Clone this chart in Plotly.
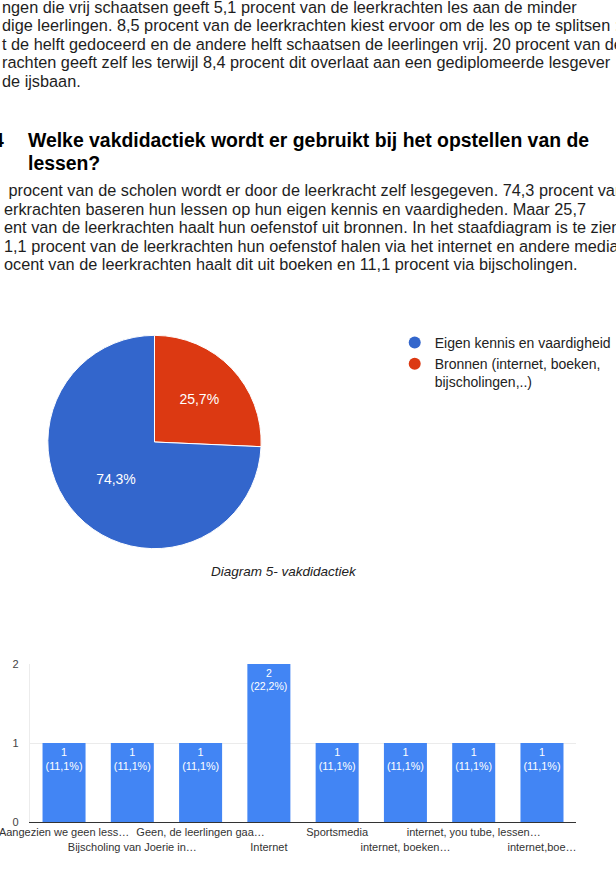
import plotly.graph_objects as go

W, H = 616, 870

# ---------- data ----------
para1 = [
    "ngen die vrij schaatsen geeft 5,1 procent van de leerkrachten les aan de minder",
    "dige leerlingen. 8,5 procent van de leerkrachten kiest ervoor om de les op te splitsen :",
    "t de helft gedoceerd en de andere helft schaatsen de leerlingen vrij. 20 procent van de",
    "rachten geeft zelf les terwijl 8,4 procent dit overlaat aan een gediplomeerde lesgever",
    "de ijsbaan.",
]
heading_num = "4"
heading = ["Welke vakdidactiek wordt er gebruikt bij het opstellen van de", "lessen?"]
para2 = [
    " procent van de scholen wordt er door de leerkracht zelf lesgegeven. 74,3 procent van",
    "erkrachten baseren hun lessen op hun eigen kennis en vaardigheden. Maar 25,7",
    "ent van de leerkrachten haalt hun oefenstof uit bronnen. In het staafdiagram is te zien",
    "1,1 procent van de leerkrachten hun oefenstof halen via het internet en andere media",
    "ocent van de leerkrachten haalt dit uit boeken en 11,1 procent via bijscholingen.",
]
caption = "Diagram 5- vakdidactiek"

pie_labels = ["Eigen kennis en vaardigheid", "Bronnen (internet, boeken,<br>bijscholingen,..)"]
pie_values = [74.3, 25.7]
pie_colors = ["#3366CC", "#DC3912"]

bar_labels = [
    "Aangezien we geen less…",
    "Bijscholing van Joerie in…",
    "Geen, de leerlingen gaa…",
    "Internet",
    "Sportsmedia",
    "internet, boeken…",
    "internet, you tube, lessen…",
    "internet,boe…",
]
bar_counts = [1, 1, 1, 2, 1, 1, 1, 1]
bar_total = 9
bar_color = "#4285F4"

# ---------- helpers ----------
def px(x):
    return x / W

def py(y):
    return 1 - y / H

FONT = "Liberation Sans, Arial, sans-serif"
TXT = "#1e1e1e"

fig = go.Figure()

# pie (drawn with the second category first so it starts at 12 o'clock going clockwise)
fig.add_trace(go.Pie(
    labels=pie_labels[::-1], values=pie_values[::-1], sort=False, direction="clockwise",
    marker=dict(colors=pie_colors[::-1], line=dict(color="white", width=1)),
    texttemplate="%{percent:.1%}", textposition="inside", insidetextorientation="horizontal",
    textfont=dict(color="white", size=14, family=FONT),
    domain=dict(x=[px(48), px(262)], y=[py(549), py(335)]),
    showlegend=False, hoverinfo="skip",
))

# legend proxies
for lab, col in zip(pie_labels, pie_colors):
    fig.add_trace(go.Scatter(
        x=[None], y=[None], mode="markers", name=lab,
        marker=dict(symbol="circle", size=13, color=col),
        xaxis="x2", yaxis="y2", showlegend=True,
    ))

# bar
share = [c / bar_total for c in bar_counts]
fig.add_trace(go.Bar(
    x=bar_labels, y=bar_counts, customdata=share,
    marker=dict(color=bar_color, line=dict(width=0)),
    texttemplate="%{y}<br>(%{customdata:.1%})", textposition="inside",
    insidetextanchor="end", textangle=0,
    textfont=dict(color="white", size=11, family=FONT),
    showlegend=False, hoverinfo="skip",
))

ticktext = [l if i % 2 == 0 else "<br>" + l for i, l in enumerate(bar_labels)]

annotations = []
def ann(x, y, text, size, color=TXT, anchor="left"):
    annotations.append(dict(x=px(x), y=py(y), xref="paper", yref="paper", text=text,
                            xanchor=anchor, yanchor="middle", showarrow=False,
                            font=dict(family=FONT, size=size, color=color)))

for i, t in enumerate(para1):
    ann(0, 7 + i * 18.4, t, 16.3)
ann(6, 140, "<b>" + heading_num + "</b>", 19.4, "#000", "right")
for i, t in enumerate(heading):
    ann(26, 140 + i * 23, "<b>" + t + "</b>", 19.4, "#000")
for i, t in enumerate(para2):
    ann(2, 190 + i * 18.6, t, 16.3)
ann(285, 571, "<i>" + caption + "</i>", 13.5, "#222", "center")

fig.update_layout(
    width=W, height=H, margin=dict(l=0, r=0, t=0, b=0),
    paper_bgcolor="white", plot_bgcolor="white",
    separators=", ",
    font=dict(family=FONT),
    showlegend=True,
    legend=dict(x=px(396), y=py(327), xanchor="left", yanchor="top",
                font=dict(family=FONT, size=14, color="#222"),
                itemsizing="constant", valign="top", tracegroupgap=0,
                bgcolor="rgba(0,0,0,0)"),
    xaxis=dict(domain=[px(30), px(578)], type="category", tickvals=bar_labels, ticktext=ticktext,
               tickangle=0, showgrid=False, showline=True, linecolor="#333", linewidth=1,
               tickfont=dict(family=FONT, size=11, color="#333"), ticks="", fixedrange=True,
               automargin=False),
    yaxis=dict(domain=[py(822), py(664)], range=[0, 2], tickvals=[0, 1, 2],
               showgrid=True, gridcolor="#ebebeb", zeroline=False,
               showline=True, linecolor="#ececec", linewidth=1,
               tickfont=dict(family=FONT, size=11, color="#444"), ticks="", fixedrange=True,
               ticklabelstandoff=8, automargin=False),
    xaxis2=dict(visible=False, domain=[0, 0.01], automargin=False),
    yaxis2=dict(visible=False, domain=[0, 0.01], automargin=False),
    bargap=0.37,
    annotations=annotations,
)

fig.write_html("out.html")
